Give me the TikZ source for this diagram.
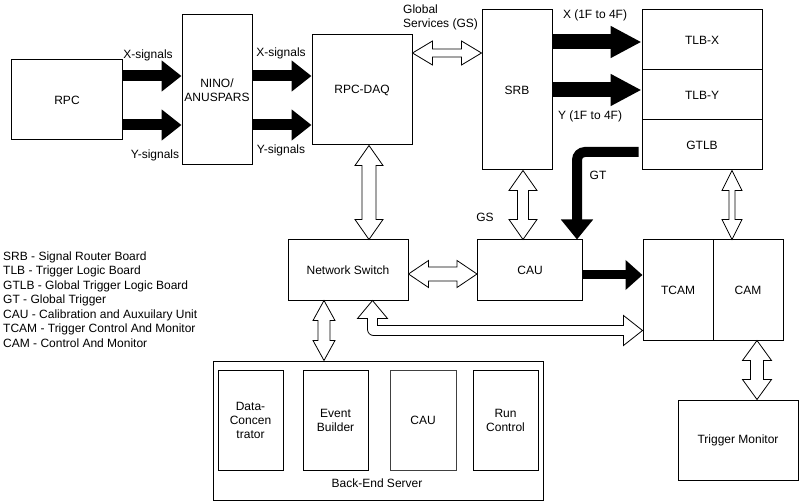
\documentclass[tikz,border=0pt]{standalone}
\usepackage{fontspec}
\setmainfont{Liberation Sans}
\usetikzlibrary{arrows.meta, calc}

% hollow double arrows (head length, then left/right or top/bottom end)
\newcommand{\arrlen}{20bp}
\newcommand{\dblh}[4]{%
  \draw[hollow] let \p1=(#1), \p2=(#2) in
    (\x1,\y1) -- (\x1+\arrlen,\y1+#3) -- (\x1+\arrlen,\y1+#4) -- (\x2-\arrlen,\y1+#4)
    -- (\x2-\arrlen,\y1+#3) -- (\x2,\y1) -- (\x2-\arrlen,\y1-#3) -- (\x2-\arrlen,\y1-#4)
    -- (\x1+\arrlen,\y1-#4) -- (\x1+\arrlen,\y1-#3) -- cycle;}
\newcommand{\dblv}[4]{%
  \draw[hollow] let \p1=(#1), \p2=(#2) in
    (\x1,\y1) -- (\x1+#3,\y1-\arrlen) -- (\x1+#4,\y1-\arrlen) -- (\x1+#4,\y2+\arrlen)
    -- (\x1+#3,\y2+\arrlen) -- (\x1,\y2) -- (\x1-#3,\y2+\arrlen) -- (\x1-#4,\y2+\arrlen)
    -- (\x1-#4,\y1-\arrlen) -- (\x1-#3,\y1-\arrlen) -- cycle;}

\begin{document}
\begin{tikzpicture}[x=1bp, y=-1bp, font=\fontsize{12bp}{14bp}\selectfont,
    box/.style={draw, line width=1bp, align=center, inner sep=1bp},
    sz/.style 2 args={minimum width=#1bp, minimum height=#2bp},
    hollow/.style={draw, line width=0.8bp, fill=white, line join=miter},
    sig/.style={line width=11bp, -{Triangle[width=30bp, length=20bp]}},
    bus/.style={line width=15bp, -{Triangle[width=30bp, length=31bp]}},
    trig/.style={line width=10bp, -{Triangle[width=31bp, length=20bp]}}]
    \useasboundingbox (0,0) rectangle (799,501);

    % front-end chain
    \node[box, sz={110}{80}] (rpc) at (67,100) {RPC};
    \node[box, sz={70}{150}] (nino) at (217,90) {NINO/\\ANUSPARS};
    \node[box, sz={100}{110}] (daq) at (362,90) {RPC-DAQ};
    \node[box, sz={70}{160}] (srb) at (517,90) {SRB};

    % trigger boards
    \node[box, sz={120}{60}] (tlbx) at (702,40) {TLB-X};
    \node[box, sz={120}{50}] (tlby) at (702,95) {TLB-Y};
    \node[box, sz={120}{50}] (gtlb) at (702,145) {GTLB};

    % middle row
    \node[box, sz={120}{60}] (ns) at (348,270) {Network Switch};
    \node[box, sz={105}{60}] (cau) at (530,270) {CAU};
    \node[box, sz={70}{100}] (tcam) at (678,290) {TCAM};
    \node[box, sz={70}{100}] (cam) at (748,290) {CAM};
    \node[box, sz={120}{80}] (tmon) at (738,440) {Trigger Monitor};

    % back-end server
    \node[box, sz={330}{139}] (bes) at (378,430.5) {};
    \node[box, sz={65}{100}] (dc) at (250.5,420) {Data-\\Concen\\trator};
    \node[box, sz={65}{100}] (eb) at (335.5,420) {Event\\Builder};
    \node[box, sz={66}{100}, draw=black!75] (bcau) at (423,420) {CAU};
    \node[box, sz={65}{100}] (rc) at (505.5,420) {Run\\Control};
    \node (beslabel) at (377,483) {Back-End Server};

    % signal arrows
    \draw[sig] (rpc.east |- 0,76) -- (nino.west |- 0,76);
    \draw[sig] (rpc.east |- 0,125) -- (nino.west |- 0,125);
    \draw[sig] (nino.east |- 0,76) -- (daq.west |- 0,76);
    \draw[sig] (nino.east |- 0,125) -- (daq.west |- 0,125);
    \node (xs1) at (148,55) {X-signals};
    \node (ys1) at (155,155) {Y-signals};
    \node (xs2) at (281,53) {X-signals};
    \node (ys2) at (281,150) {Y-signals};

    \draw[bus] (srb.east |- 0,42) -- (tlbx.west |- 0,42);
    \draw[bus] (srb.east |- 0,90) -- (tlby.west |- 0,90);
    \node (xf) at (595,15) {X (1F to 4F)};
    \node (yf) at (590,116) {Y (1F to 4F)};

    % global trigger
    \draw[trig, rounded corners=8bp] ($(gtlb.west)+(-3,7)$) -| ($(cau.north east)+(-6,0)$);
    \node (gt) at (598,175) {GT};
    \draw[line width=9bp, -{Triangle[width=29bp, length=17bp]}] (cau.east |- 0,275) -- (tcam.west |- 0,275);

    % services and network links
    \dblh{$(daq.east)+(0,-37)$}{srb.west}{12bp}{4bp}
    \node[anchor=west, align=left, inner sep=0pt] (gs) at (403,17.5) {Global\\Services (GS)};
    \dblv{$(srb.south)+(6,0)$}{cau.north}{14bp}{5.5bp}
    \node (gs2) at (485,217) {GS};
    \dblv{$(daq.south)+(7,0)$}{ns.north}{14bp}{7bp}
    \dblv{$(gtlb.south)+(30,0)$}{cam.north}{10bp}{3bp}
    \dblh{$(ns.east)+(0,4)$}{cau.west}{13.5bp}{7bp}
    \dblv{$(ns.south)+(-24,0)$}{bes.north}{11bp}{6bp}
    \dblv{$(cam.south)+(9,0)$}{tmon.north}{14.5bp}{6.5bp}

    % switch to TCAM
    \draw[hollow] let \p1=($(ns.south east)+(-36,0)$), \p2=($(tcam.south west)+(0,-10)$) in
      (\p1) -- (\x1+15bp,\y1-18bp) -- (\x1+5bp,\y1-18bp) -- (\x1+5bp,\y2+5bp)
      -- (\x2-19bp,\y2+5bp) -- (\x2-19bp,\y2+15bp) -- (\p2) -- (\x2-19bp,\y2-15bp)
      -- (\x2-19bp,\y2-5bp) -- (\x1+1bp,\y2-5bp) arc[start angle=-90, end angle=-180, radius=6bp]
      -- (\x1-5bp,\y1-18bp) -- (\x1-15bp,\y1-18bp) -- cycle;

    % legend
    \node[anchor=west, align=left, inner sep=0pt, font=\fontsize{12bp}{14.5bp}\selectfont] (legend) at (3,299.5)
      {SRB - Signal Router Board\\TLB - Trigger Logic Board\\GTLB - Global Trigger Logic Board\\GT - Global Trigger\\CAU - Calibration and Auxuilary Unit\\TCAM - Trigger Control And Monitor\\CAM - Control And Monitor};
\end{tikzpicture}
\end{document}
